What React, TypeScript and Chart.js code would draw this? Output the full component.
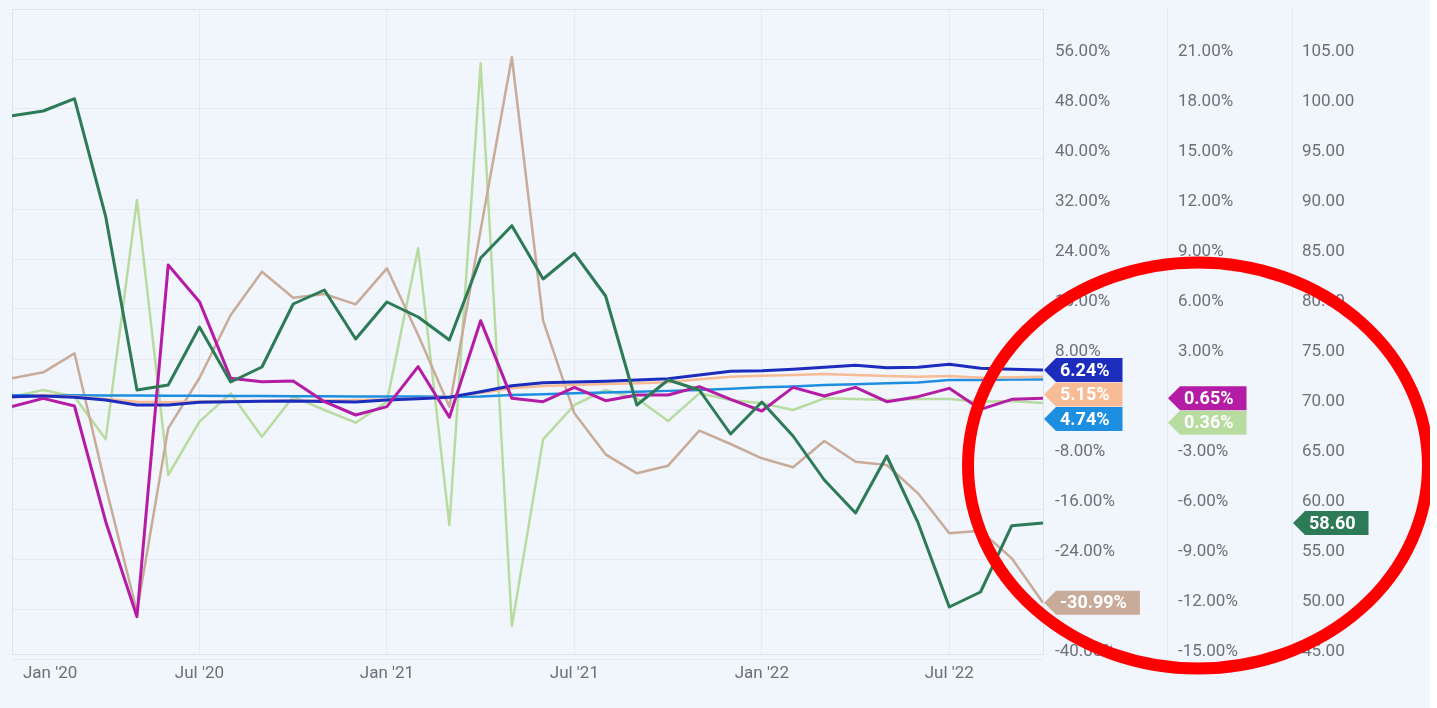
import React, { useEffect, useRef } from 'react';
import { Chart, registerables } from 'chart.js';

Chart.register(...registerables);

const months = [
  'Jan 2020', 'Feb 2020', 'Mar 2020', 'Apr 2020', 'May 2020', 'Jun 2020',
  'Jul 2020', 'Aug 2020', 'Sep 2020', 'Oct 2020', 'Nov 2020', 'Dec 2020',
  'Jan 2021', 'Feb 2021', 'Mar 2021', 'Apr 2021', 'May 2021', 'Jun 2021',
  'Jul 2021', 'Aug 2021', 'Sep 2021', 'Oct 2021', 'Nov 2021', 'Dec 2021',
  'Jan 2022', 'Feb 2022', 'Mar 2022', 'Apr 2022', 'May 2022', 'Jun 2022',
  'Jul 2022', 'Aug 2022', 'Sep 2022', 'Oct 2022',
];

const xTickMonths = ['Jan 2020', 'Jul 2020', 'Jan 2021', 'Jul 2021', 'Jan 2022', 'Jul 2022'];
const xTickLabels = ["Jan '20", "Jul '20", "Jan '21", "Jul '21", "Jan '22", "Jul '22"];

// left-most percentage axis
const pctTicksA = [-40, -32, -24, -16, -8, 0, 8, 16, 24, 32, 40, 48, 56];
// middle percentage axis
const pctTicksB = [-15, -12, -9, -6, -3, 0, 3, 6, 9, 12, 15, 18, 21];
// right-most value axis
const valTicksC = [45, 50, 55, 60, 65, 70, 75, 80, 85, 90, 95, 100, 105];

// axis A series (%)
const darkBlueSeries = [1.97, 2.08, 1.87, 1.44, 0.64, 0.64, 1.07, 1.17, 1.23, 1.28, 1.2, 1.12, 1.44, 1.65, 1.87, 2.77, 3.73, 4.21, 4.32, 4.43, 4.64, 4.85, 5.44, 6.03, 6.13, 6.35, 6.67, 6.99, 6.61, 6.67, 7.15, 6.51, 6.35, 6.24];
const peachSeries = [1.87, 2.24, 2.0, 1.6, 1.17, 1.07, 1.2, 1.28, 1.28, 1.36, 1.36, 1.44, 1.52, 1.68, 2.0, 2.56, 3.31, 3.68, 3.84, 4.0, 4.11, 4.27, 4.75, 5.17, 5.33, 5.44, 5.6, 5.44, 5.28, 5.17, 5.28, 5.01, 5.07, 5.15];
const blueSeries = [2.19, 2.2, 2.2, 2.18, 2.15, 2.13, 2.12, 2.1, 2.08, 2.06, 2.04, 2.02, 2.0, 1.99, 1.98, 2.0, 2.24, 2.37, 2.51, 2.64, 2.77, 2.9, 3.04, 3.25, 3.47, 3.6, 3.84, 3.97, 4.11, 4.25, 4.64, 4.66, 4.7, 4.74];
const tanSeries = [4.91, 5.87, 8.91, -12.4, -32.43, -3.09, 4.96, 15.04, 21.97, 17.81, 18.4, 16.75, 22.51, 11.84, 0.37, 28.64, 56.27, 14.13, -0.69, -7.25, -10.29, -9.07, -3.47, -5.6, -7.89, -9.33, -5.12, -8.43, -8.96, -13.49, -19.89, -19.47, -23.89, -30.99];

// axis B series (%)
const magentaSeries = [0.14, 0.64, 0.18, -6.76, -12.46, 8.64, 6.44, 1.84, 1.64, 1.68, 0.44, -0.36, 0.14, 2.54, -0.5, 5.3, 0.64, 0.44, 1.3, 0.5, 0.84, 0.84, 1.34, 0.58, -0.12, 1.3, 0.78, 1.3, 0.44, 0.74, 1.24, -0.02, 0.58, 0.65];
const lightGreenSeries = [0.74, 1.14, 0.74, -1.82, 12.54, -3.96, -0.76, 0.94, -1.66, 0.74, -0.06, -0.82, 0.44, 9.64, -6.96, 20.74, -13.02, -1.82, 0.24, 1.14, 0.64, -0.72, 0.94, 0.54, 0.34, -0.06, 0.64, 0.6, 0.54, 0.6, 0.6, 0.44, 0.48, 0.36];

// axis C series (index value)
const darkGreenSeries = [99.33, 99.8, 101.03, 89.23, 71.9, 72.4, 78.2, 72.7, 74.2, 80.5, 81.9, 77.0, 80.7, 79.2, 76.9, 85.1, 88.33, 83.0, 85.57, 81.3, 70.4, 72.9, 71.9, 67.5, 70.7, 67.3, 62.9, 59.6, 65.3, 58.63, 50.2, 51.7, 58.33, 58.6];

const BG = '#f1f5fc';
const GRID = '#e5eaf2';
const BORDER = '#dde3ec';
const TICK_COLOR = '#6b7079';
const FONT = { family: 'Roboto', size: 17 };

const pctFmt = (v: number) => v.toFixed(2) + '%';
const numFmt = (v: number) => v.toFixed(2);

// ticks below the axis minimum are placed last so grid line drawing is not interrupted
function orderTicks(values: number[], min: number) {
  const inside = values.filter((v) => v >= min).sort((a, b) => a - b);
  const outside = values.filter((v) => v < min);
  return [...inside, ...outside].map((value) => ({ value }));
}

function zeroPad(scale: any) {
  scale.paddingTop = 0;
  scale.paddingBottom = 0;
  scale.paddingLeft = 0;
  scale.paddingRight = 0;
}

const tagPlugin = {
  id: 'lastValueTags',
  afterDraw(chart: any) {
    const ctx = chart.ctx;
    const H = 24;
    const groups: Record<string, any[]> = {};
    chart.data.datasets.forEach((ds: any) => {
      const scale = chart.scales[ds.yAxisID];
      const last = ds.data[ds.data.length - 1];
      const v = last.y;
      groups[ds.yAxisID] = groups[ds.yAxisID] || [];
      groups[ds.yAxisID].push({
        y: scale.getPixelForValue(v),
        text: ds.yAxisID === 'yC' ? numFmt(v) : pctFmt(v),
        color: ds.borderColor,
        left: scale.left,
      });
    });
    ctx.save();
    ctx.font = 'bold 18px Roboto';
    ctx.textBaseline = 'middle';
    ctx.textAlign = 'left';
    Object.keys(groups).forEach((k) => {
      const items = groups[k].sort((a, b) => a.y - b.y);
      let prev = -Infinity;
      items.forEach((it) => {
        const y = Math.max(it.y, prev + H + 0.5);
        prev = y;
        const tw = ctx.measureText(it.text).width;
        const left = it.left + 1;
        const right = left + 16 + tw + 13;
        ctx.fillStyle = it.color;
        ctx.beginPath();
        ctx.moveTo(left, y);
        ctx.lineTo(left + 12, y - H / 2);
        ctx.lineTo(right, y - H / 2);
        ctx.lineTo(right, y + H / 2);
        ctx.lineTo(left + 12, y + H / 2);
        ctx.closePath();
        ctx.fill();
        ctx.fillStyle = '#ffffff';
        ctx.fillText(it.text, left + 16, y + 1);
      });
    });
    ctx.restore();
  },
};

const framePlugin = {
  id: 'plotFrame',
  beforeDatasetsDraw(chart: any) {
    const { ctx, chartArea } = chart;
    ctx.save();
    ctx.strokeStyle = BORDER;
    ctx.lineWidth = 1;
    ctx.beginPath();
    ctx.moveTo(chartArea.left + 0.5, chartArea.bottom);
    ctx.lineTo(chartArea.left + 0.5, chartArea.top + 0.5);
    ctx.lineTo(chartArea.right, chartArea.top + 0.5);
    ctx.stroke();
    ctx.restore();
  },
};

const circlePlugin = {
  id: 'highlightEllipse',
  afterDraw(chart: any) {
    const ctx = chart.ctx;
    ctx.save();
    ctx.strokeStyle = '#ff0000';
    ctx.lineWidth = 12;
    ctx.beginPath();
    ctx.ellipse(1198, 465.5, 230, 203, 0, 0, Math.PI * 2);
    ctx.stroke();
    ctx.restore();
  },
};

export default function App() {
  const ref = useRef<HTMLCanvasElement | null>(null);

  useEffect(() => {
    if (!ref.current) return;
    const toPts = (arr: number[]) => arr.map((y, i) => ({ x: i, y }));
    const line = (label: string, data: number[], color: string, axis: string, width: number) => ({
      label,
      data: toPts(data),
      borderColor: color,
      backgroundColor: color,
      borderWidth: width,
      pointRadius: 0,
      tension: 0,
      yAxisID: axis,
      borderJoinStyle: 'round' as const,
    });

    const minA = -39.2, maxA = 64;
    const minB = -14.7, maxB = 24;
    const minC = 45.5, maxC = 110;
    const firstLabelShift = 1.22;

    const chart = new Chart(ref.current, {
      type: 'line',
      data: {
        labels: months,
        datasets: [
          line('Index level', darkGreenSeries, '#2c7a56', 'yC', 3),
          line('Monthly change A', magentaSeries, '#b41ca6', 'yB', 3),
          line('Yearly change A', darkBlueSeries, '#1c2dbd', 'yA', 3),
          line('Yearly change B', peachSeries, '#f7bb95', 'yA', 2.5),
          line('Yearly change C', blueSeries, '#1e8fe0', 'yA', 2.5),
          line('Yearly change D', tanSeries, '#c8ab99', 'yA', 2.5),
          line('Monthly change B', lightGreenSeries, '#b8dca0', 'yB', 2.5),
        ],
      },
      options: {
        animation: false,
        responsive: false,
        events: [],
        layout: { padding: { left: 12, top: 9, right: 0, bottom: 0 } },
        plugins: { legend: { display: false }, tooltip: { enabled: false } },
        scales: {
          x: {
            type: 'linear',
            min: 0,
            max: months.length - 1,
            afterBuildTicks: (scale: any) => {
              scale.ticks = xTickMonths.map((m, k) => ({
                value: months.indexOf(m) + (k === 0 ? firstLabelShift : 0),
              }));
            },
            afterFit: (scale: any) => {
              zeroPad(scale);
              scale.height = 54;
            },
            ticks: {
              autoSkip: false,
              maxRotation: 0,
              padding: 10,
              color: TICK_COLOR,
              font: FONT,
              callback: (_v: any, index: number) => xTickLabels[index],
            },
            grid: {
              drawTicks: false,
              color: (c: any) => (c.index === 0 ? 'rgba(0,0,0,0)' : GRID),
            },
            border: { display: true, color: BORDER },
          },
          yA: {
            type: 'linear',
            position: 'right',
            weight: 0,
            min: minA,
            max: maxA,
            afterBuildTicks: (scale: any) => { scale.ticks = orderTicks(pctTicksA, minA); },
            afterFit: (scale: any) => { zeroPad(scale); scale.width = 124; },
            ticks: {
              autoSkip: false,
              crossAlign: 'near',
              padding: 12,
              labelOffset: -7,
              color: TICK_COLOR,
              font: FONT,
              callback: (v: any) => pctFmt(Number(v)),
            },
            grid: { drawTicks: false, color: GRID },
            border: { display: true, color: BORDER },
          },
          yB: {
            type: 'linear',
            position: 'right',
            weight: 1,
            min: minB,
            max: maxB,
            afterBuildTicks: (scale: any) => { scale.ticks = orderTicks(pctTicksB, minB); },
            afterFit: (scale: any) => { zeroPad(scale); scale.width = 125; },
            ticks: {
              autoSkip: false,
              crossAlign: 'near',
              padding: 11,
              labelOffset: -7,
              color: TICK_COLOR,
              font: FONT,
              callback: (v: any) => pctFmt(Number(v)),
            },
            grid: { drawTicks: false, drawOnChartArea: false, color: 'rgba(0,0,0,0)' },
            border: { display: true, color: GRID },
          },
          yC: {
            type: 'linear',
            position: 'right',
            weight: 2,
            min: minC,
            max: maxC,
            afterBuildTicks: (scale: any) => { scale.ticks = orderTicks(valTicksC, minC); },
            afterFit: (scale: any) => { zeroPad(scale); scale.width = 138; },
            ticks: {
              autoSkip: false,
              crossAlign: 'near',
              padding: 10,
              labelOffset: -7,
              color: TICK_COLOR,
              font: FONT,
              callback: (v: any) => numFmt(Number(v)),
            },
            grid: { drawTicks: false, drawOnChartArea: false, color: 'rgba(0,0,0,0)' },
            border: { display: true, color: GRID },
          },
        },
      } as any,
      plugins: [framePlugin, tagPlugin, circlePlugin],
    });
    return () => chart.destroy();
  }, []);

  return (
    <div style={{ position: 'fixed', left: 0, top: 0, width: 1430, height: 708, background: BG }}>
      <canvas ref={ref} width={1430} height={708} style={{ display: 'block' }} />
    </div>
  );
}
